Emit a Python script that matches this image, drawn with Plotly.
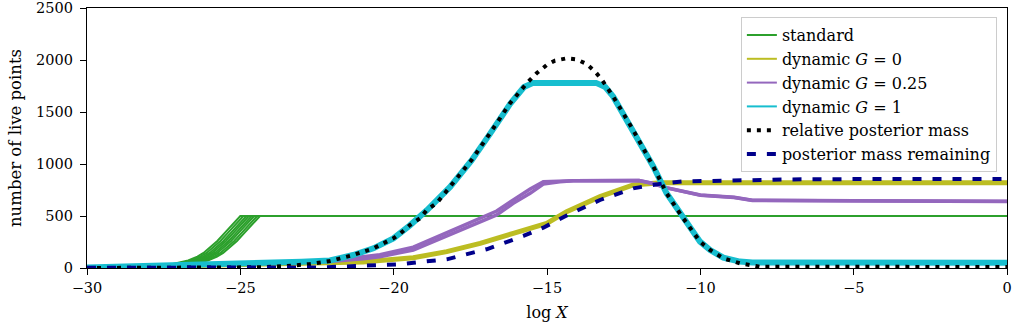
import plotly.graph_objects as go

# ---------------- data ----------------
# standard runs: shape of the final decay (offset from where a run leaves 500, live points)
std_shape_dx = [0.0, -0.25, -0.5, -0.75, -1.0, -1.2, -1.4, -1.7, -2.2, -2.6, -3.0, -3.6, -4.5]
std_shape_n = [500, 420, 340, 260, 200, 145, 109, 72, 38, 18, 7, 2, 0]
std_run_ends = [-25.0, -24.9, -24.8, -24.72, -24.63, -24.55, -24.45, -24.36]

g1_x = [-30, -29, -28, -27, -26, -25, -24, -23, -22.08, -21.32, -20.66, -20.01, -19.47, -18.92,
        -18.16, -17.46, -16.86, -16.21, -15.75, -15.45, -13.4, -13.1, -12.84, -12.19, -11.53,
        -11.10, -10.61, -10.01, -9.68, -9.25, -8.71, -8.3, 0]
g1_n = [4, 10, 16, 23, 30, 38, 48, 60, 72, 125, 189, 285, 410, 555,
        780, 1035, 1290, 1575, 1740, 1780, 1780, 1740, 1647, 1327, 974,
        718, 500, 253, 173, 100, 62, 52, 50]

g025_x = [-30, -29, -28, -27, -26, -25, -24, -23.16, -22.08, -20.99, -20.45, -19.36, -18.27, -17.18,
          -16.64, -16.10, -15.55, -15.12, -14.58, -14.14, -12.0, -11.6, -11.1, -10.0, -8.9, -8.3, -5, 0]
g025_n = [3, 10, 17, 24, 31, 38, 44, 48, 62, 90, 109, 173, 308, 445,
          510, 622, 718, 808, 830, 838, 842, 815, 770, 700, 678, 650, 645, 640]
g025_run2_n = [3, 10, 17, 24, 31, 38, 46, 52, 70, 105, 128, 200, 340, 480,
               548, 655, 760, 830, 838, 840, 842, 818, 772, 702, 680, 652, 646, 641]

g0_x = [-30, -29, -28, -27, -26, -25, -24, -23, -21, -20.45, -19.36, -18.27, -17.18, -16.10, -15.01,
        -14.36, -13.27, -12.19, -11.74, -11.3, 0]
g0_n = [3, 9, 15, 21, 27, 33, 38, 42, 58, 72, 99, 157, 237, 333, 429,
        542, 686, 798, 814, 819, 819]

post_x = [-30, -26, -24.25, -23.49, -22.73, -22.08, -21.70, -21.32, -20.99, -20.66, -20.34, -20.01,
          -19.79, -19.47, -19.14, -18.92, -18.60, -18.16, -17.95, -17.46, -16.86, -16.21, -15.61,
          -15.34, -15.01, -14.74, -14.36, -14.03, -13.71, -13.43, -13.22, -12.84, -12.19, -11.53,
          -11.10, -10.61, -10.01, -9.68, -9.25, -8.71, -8.05, 0]
post_n = [0, 1, 7, 19, 38, 67, 93, 125, 157, 189, 237, 285,
          330, 413, 478, 558, 622, 782, 846, 1038, 1295, 1583, 1792,
          1872, 1952, 1994, 2016, 2006, 1962, 1888, 1814, 1647, 1327, 974,
          718, 500, 253, 173, 93, 45, 12, 10]

rem_x = [-30, -25, -22.4, -21.75, -20.99, -20.34, -19.79, -19.03, -18.27, -17.73, -16.97, -15.77,
         -15.12, -14.36, -13.27, -12.19, -11.21, -10.6, -9, -7, -5, 0]
rem_n = [2, 2, 6, 13, 19, 27, 35, 61, 83, 125, 180, 308,
         388, 505, 654, 766, 814, 832, 845, 852, 855, 856]

x_ticks = [-30, -25, -20, -15, -10, -5, 0]
x_tick_text = ["\u221230", "\u221225", "\u221220", "\u221215", "\u221210", "\u22125", "0"]
y_ticks = [0, 500, 1000, 1500, 2000, 2500]

FONT = "DejaVu Serif"
C_STD, C_G0, C_G025, C_G1 = "#2ca02c", "#bcbd22", "#9467bd", "#17becf"

fig = go.Figure()

for i, end in enumerate(std_run_ends):
    fig.add_trace(go.Scatter(
        x=[end + d for d in reversed(std_shape_dx)] + [0],
        y=list(reversed(std_shape_n)) + [500],
        mode="lines", line=dict(color=C_STD, width=2),
        name="standard", legendgroup="std", showlegend=(i == 0)))

fig.add_trace(go.Scatter(x=g0_x, y=g0_n, mode="lines", line=dict(color=C_G0, width=5),
                         legendgroup="g0", showlegend=False))
fig.add_trace(go.Scatter(x=g025_x, y=g025_run2_n, mode="lines", line=dict(color=C_G025, width=3.5),
                         legendgroup="g025", showlegend=False))
fig.add_trace(go.Scatter(x=g025_x, y=g025_n, mode="lines", line=dict(color=C_G025, width=3.5),
                         legendgroup="g025", showlegend=False))
fig.add_trace(go.Scatter(x=g1_x, y=g1_n, mode="lines", line=dict(color=C_G1, width=6),
                         legendgroup="g1", showlegend=False))

# legend entries (thin sample lines, as in the reference legend)
for name, col, grp in [("dynamic <i>G</i> = 0", C_G0, "g0"),
                       ("dynamic <i>G</i> = 0.25", C_G025, "g025"),
                       ("dynamic <i>G</i> = 1", C_G1, "g1")]:
    fig.add_trace(go.Scatter(x=[None], y=[None], mode="lines", line=dict(color=col, width=2),
                             name=name, legendgroup=grp))

fig.add_trace(go.Scatter(x=post_x, y=post_n, mode="lines",
                         line=dict(color="black", width=4, dash="4px,6px"),
                         name="relative posterior mass"))
fig.add_trace(go.Scatter(x=rem_x, y=rem_n, mode="lines",
                         line=dict(color="#00008b", width=4, dash="9px,11px"),
                         name="posterior mass remaining"))

axis_common = dict(showline=True, linecolor="black", linewidth=1.3, mirror=True,
                   ticks="outside", ticklen=6, tickwidth=1.2, tickcolor="black",
                   showgrid=False, zeroline=False, ticklabeloverflow="allow",
                   automargin=False,
                   tickfont=dict(family=FONT, size=14.5, color="black"))

fig.update_xaxes(range=[-30, 0], tickvals=x_ticks, ticktext=x_tick_text,
                 title=dict(text="log <i>X</i>", font=dict(family=FONT, size=16, color="black"),
                            standoff=12),
                 **axis_common)
fig.update_yaxes(range=[0, 2500], tickvals=y_ticks, ticklabelstandoff=4,
                 title=dict(text="number of live points", font=dict(family=FONT, size=16.5, color="black"),
                            standoff=10),
                 **axis_common)

fig.update_layout(
    width=1018, height=330,
    margin=dict(l=87, r=11, t=8, b=62),
    plot_bgcolor="white", paper_bgcolor="white",
    font=dict(family=FONT, size=14, color="black"),
    legend=dict(x=0.989, y=0.965, xanchor="right", yanchor="top",
                bgcolor="rgba(255,255,255,0.9)", bordercolor="#cccccc", borderwidth=1,
                font=dict(family=FONT, size=16, color="black"),
                itemwidth=30, tracegroupgap=0),
    showlegend=True,
)

fig.write_html("out.html")
